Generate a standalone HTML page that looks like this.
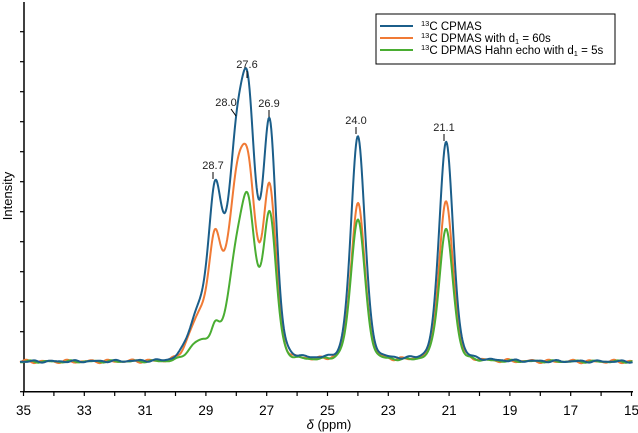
<!DOCTYPE html>
<html><head><meta charset="utf-8"><style>
html,body{margin:0;padding:0;background:#fff;}
svg{display:block;font-family:"Liberation Sans",Arial,sans-serif;}
</style></head><body>
<svg id="s" width="638" height="433" viewBox="0 0 638 433" xmlns="http://www.w3.org/2000/svg">
<g id="axes" stroke="#000" stroke-width="1.5" fill="none">
<line x1="24" y1="2" x2="24" y2="392"/>
<line x1="23.3" y1="391.7" x2="633" y2="391.7"/>
</g>
<g id="ticks" stroke="#000" stroke-width="1.2"></g>
<g font-size="13.5" fill="#000" text-anchor="middle" id="xl"></g>
<text x="329" y="429" font-size="13" text-anchor="middle"><tspan font-style="italic">δ</tspan> (ppm)</text>
<text transform="translate(12,196) rotate(-90)" font-size="13" text-anchor="middle">Intensity</text>
<g id="curves" fill="none" stroke-width="2" stroke-linejoin="round"></g>
<g font-size="11" fill="#222" text-anchor="middle">
<text x="247" y="68">27.6</text><line x1="247" y1="71" x2="247" y2="78" stroke="#000"/>
<text x="226" y="106">28.0</text><line x1="231" y1="109" x2="236" y2="116" stroke="#000"/>
<text x="269" y="107">26.9</text><line x1="269" y1="110" x2="269" y2="117" stroke="#000"/>
<text x="213" y="169">28.7</text><line x1="213" y1="172" x2="213" y2="179" stroke="#000"/>
<text x="356" y="124">24.0</text><line x1="356" y1="127" x2="356" y2="134" stroke="#000"/>
<text x="444" y="131">21.1</text><line x1="444" y1="134" x2="444" y2="141" stroke="#000"/>
</g>
<rect x="376" y="14" width="239" height="50" fill="#fff" stroke="#000" stroke-width="1"/>
<line x1="380" y1="26" x2="413" y2="26" stroke="#1b5e8a" stroke-width="2"/>
<line x1="380" y1="38" x2="413" y2="38" stroke="#f07a35" stroke-width="2"/>
<line x1="380" y1="50" x2="413" y2="50" stroke="#4aad32" stroke-width="2"/>
<g font-size="11.5" fill="#000">
<text x="421" y="30"><tspan font-size="7.5" dy="-4">13</tspan><tspan dy="4">C CPMAS</tspan></text>
<text x="421" y="42"><tspan font-size="7.5" dy="-4">13</tspan><tspan dy="4">C DPMAS with d</tspan><tspan font-size="7.5" dy="2">1</tspan><tspan dy="-2"> = 60s</tspan></text>
<text x="421" y="54"><tspan font-size="7.5" dy="-4">13</tspan><tspan dy="4">C DPMAS Hahn echo with d</tspan><tspan font-size="7.5" dy="2">1</tspan><tspan dy="-2"> = 5s</tspan></text>
</g>
</svg>
<script>
var NS="http://www.w3.org/2000/svg";
function X(p){return 23.5+(35-p)*30.4;}
var base=361.7;
var tk=document.getElementById('ticks'),xl=document.getElementById('xl');
for(var k=1;k<=13;k++){var y=1.7+30*k;var l=document.createElementNS(NS,'line');l.setAttribute('x1',20);l.setAttribute('x2',24);l.setAttribute('y1',y);l.setAttribute('y2',y);tk.appendChild(l);}
for(var p=35;p>=15;p--){var x=X(p);var l=document.createElementNS(NS,'line');l.setAttribute('x1',x);l.setAttribute('x2',x);l.setAttribute('y1',391);l.setAttribute('y2',396);tk.appendChild(l);
 if(p%2==1){var t=document.createElementNS(NS,'text');t.setAttribute('x',x);t.setAttribute('y',415);t.textContent=p;xl.appendChild(t);}}
function shape(d,w){var g=Math.exp(-0.693*d*d/(w*w));var L=1/(1+d*d/(w*w));return 0.75*g+0.25*L;}
var cs=[28.7,28.0,27.6,26.9,24.0,21.1];
var ws=[0.24,0.28,0.26,0.25,0.27,0.27];
function build(targets,broad,sh,ripple,color,seed,wl){
 var A=targets.slice();
 function f(p,A){var s=broad*Math.exp(-Math.pow((p-27.9)/0.5,2)/2)+sh*Math.exp(-Math.pow((p-29.2)/0.35,2)/2);for(var i=0;i<cs.length;i++)s+=A[i]*shape(p-cs[i],i==0?wl:ws[i]);return s;}
 for(var it=0;it<600;it++){for(var i=0;i<cs.length;i++){A[i]+=0.3*(targets[i]-f(cs[i],A));if(A[i]<0)A[i]=0;}}
 var d='';
 for(var x=20;x<=633;x+=0.7){var p=35-(x-23.5)/30.4;var v=f(p,A);
  var r=ripple*(Math.sin(p*9.1+seed)*0.6+Math.sin(p*14.3+seed*2)*0.4);
  var y=base-v+r;d+=(d?'L':'M')+x.toFixed(1)+','+y.toFixed(1);}
 var pa=document.createElementNS(NS,'path');pa.setAttribute('d',d);pa.setAttribute('stroke',color);document.getElementById('curves').appendChild(pa);
}
build([131,194,209,179,158,160],90,40,1.8,'#f07a35',1,0.24);
build([40,125,167,151,143,132],45,18,1.2,'#4aad32',2,0.15);
build([182,247,283,244,226,220],115,45,1.2,'#1b5e8a',3,0.24);
</script>
</body></html>
